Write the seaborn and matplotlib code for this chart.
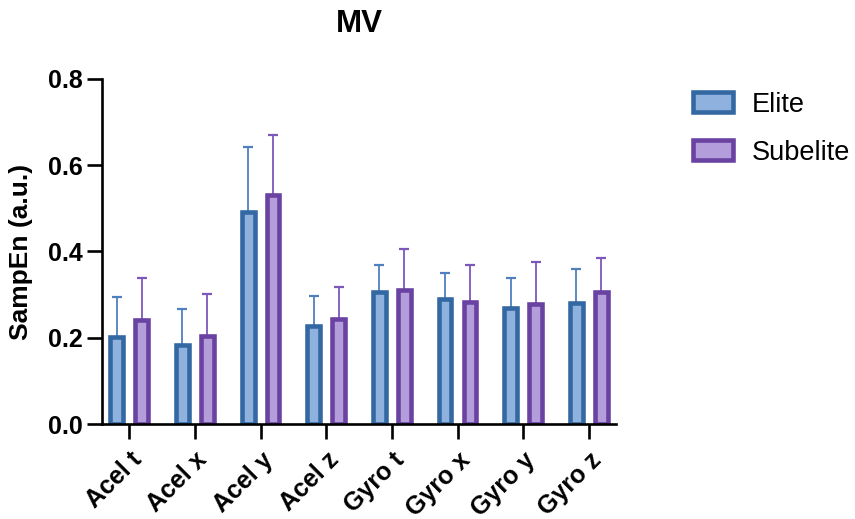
import numpy as np
import pandas as pd
import matplotlib
matplotlib.use("Agg")
import matplotlib.pyplot as plt
import seaborn as sns

# --- data ---
sensors = ["Acel t", "Acel x", "Acel y", "Acel z", "Gyro t", "Gyro x", "Gyro y", "Gyro z"]
groups = ["Elite", "Subelite"]
elite_mean = [0.201, 0.184, 0.491, 0.227, 0.307, 0.289, 0.269, 0.281]
elite_sd = [0.093, 0.083, 0.152, 0.070, 0.062, 0.061, 0.069, 0.078]
subelite_mean = [0.240, 0.203, 0.532, 0.243, 0.310, 0.284, 0.279, 0.307]
subelite_sd = [0.099, 0.098, 0.137, 0.075, 0.096, 0.085, 0.097, 0.077]
y_ticks = [0.0, 0.2, 0.4, 0.6, 0.8]

# --- styling ---
fill_colors = {"Elite": "#8fb1dd", "Subelite": "#b49ddb"}
edge_colors = {"Elite": "#3468a2", "Subelite": "#6a42a2"}
err_colors = {"Elite": "#4f80bd", "Subelite": "#7d58bb"}

df = pd.DataFrame({
    "sensor": sensors * 2,
    "value": elite_mean + subelite_mean,
    "sd": elite_sd + subelite_sd,
    "group": ["Elite"] * len(sensors) + ["Subelite"] * len(sensors),
})

sns.set_style("ticks")
plt.rcParams["font.family"] = ["Liberation Sans", "DejaVu Sans"]
plt.rcParams["text.color"] = "black"
plt.rcParams["xtick.color"] = "black"
plt.rcParams["ytick.color"] = "black"
plt.rcParams["axes.labelcolor"] = "black"

fig = plt.figure(figsize=(8.55, 5.19), dpi=100)
ax = fig.add_axes([0.119, 0.183, 0.602, 0.665])

sns.barplot(data=df, x="sensor", y="value", hue="group", order=sensors,
            hue_order=groups, palette=fill_colors, saturation=1, errorbar=None,
            width=0.76, gap=0.49, linewidth=3.3, ax=ax)

# per-group edge colours + one-sided error bars
for grp, cont in zip(groups, ax.containers):
    sub = df[df["group"] == grp].set_index("sensor").loc[sensors]
    xs = []
    for bar in cont:
        bar.set_edgecolor(edge_colors[grp])
        bar.set_linewidth(3.3)
        xs.append(bar.get_x() + bar.get_width() / 2)
    sd = sub["sd"].to_numpy()
    ax.errorbar(xs, sub["value"].to_numpy(), yerr=[np.zeros_like(sd), sd],
                fmt="none", ecolor=err_colors[grp], elinewidth=1.3,
                capsize=3.5, capthick=1.6, zorder=0.9)

ax.set_xlim(-0.42, 7.42)
ax.set_ylim(0, 0.8)
ax.set_yticks(y_ticks)
ax.set_yticklabels([f"{t:.1f}" for t in y_ticks], fontsize=18, fontweight="bold")
ax.set_xticks(range(len(sensors)))
ax.set_xticklabels(sensors, fontsize=18, fontweight="bold", rotation=45,
                   ha="right", rotation_mode="anchor")
ax.set_xlabel("")
ax.set_ylabel("SampEn (a.u.)", fontsize=19, fontweight="bold")
ax.yaxis.set_label_coords(-0.133, 0.5)

sns.despine(ax=ax)
for side in ["left", "bottom"]:
    ax.spines[side].set_linewidth(1.9)
    ax.spines[side].set_color("black")
ax.tick_params(axis="both", direction="out", length=11, width=1.9, color="black")
ax.tick_params(axis="y", pad=3)
ax.tick_params(axis="x", pad=6)

fig.text((0.119 + 0.721) / 2, 0.953, "MV", ha="center", va="center",
         fontsize=22.5, fontweight="bold")

handles, labels = ax.get_legend_handles_labels()
for h, grp in zip(handles, labels):
    h.set_edgecolor(edge_colors[grp])
    h.set_linewidth(3.3)
ax.legend(handles, labels, loc="center left", bbox_to_anchor=(0.811, 0.752),
          bbox_transform=fig.transFigure, frameon=False, fontsize=19.5,
          handlelength=1.45, handleheight=0.75, handletextpad=0.7,
          labelspacing=0.82, borderpad=0, borderaxespad=0)

fig.savefig("out.png", dpi=100)
